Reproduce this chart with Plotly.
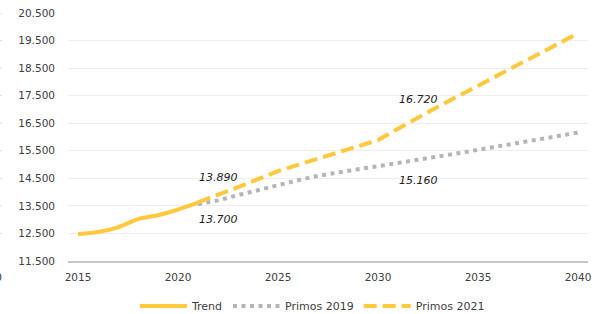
import plotly.graph_objects as go

years_trend = [2015, 2016, 2017, 2018, 2019, 2020, 2021]
trend = [12480, 12550, 12720, 13020, 13160, 13370, 13620]

years_fc = list(range(2021, 2041))
primos_2019 = [13560, 13700, 13890, 14080, 14260, 14430, 14590, 14720, 14830, 14940,
               15050, 15160, 15285, 15410, 15535, 15660, 15785, 15910, 16035, 16160]
primos_2021 = [13630, 13890, 14180, 14470, 14760, 14990, 15220, 15440, 15660, 15890,
               16300, 16720, 17100, 17480, 17860, 18240, 18620, 19000, 19380, 19760]

x_ticks = [2015, 2020, 2025, 2030, 2035, 2040]
y_ticks = list(range(11500, 20501, 1000))

def fmt(v):
    return f"{v:,}".replace(",", ".")

YELLOW = "#FFC83D"
GRAY = "#B2B6BA"
FONT = "DejaVu Sans"

fig = go.Figure()
fig.add_trace(go.Scatter(x=years_trend, y=trend, mode="lines", name="Trend",
                         line=dict(color=YELLOW, width=4, shape="spline", smoothing=0.8)))
fig.add_trace(go.Scatter(x=years_fc, y=primos_2019, mode="lines", name="Primos 2019",
                         line=dict(color=GRAY, width=4, dash="4px,4.5px")))
fig.add_trace(go.Scatter(x=years_fc, y=primos_2021, mode="lines", name="Primos 2021",
                         line=dict(color=YELLOW, width=4, dash="13px,6px")))

# data labels
labels = [
    (years_fc[1], primos_2021[1], 18),
    (years_fc[1], primos_2019[1], -19),
    (years_fc[11], primos_2021[11], 18),
    (years_fc[11], primos_2019[11], -20),
]
for x, y, ys in labels:
    fig.add_annotation(x=x, y=y, text=f"<i>{fmt(y)}</i>", showarrow=False, yshift=ys,
                       font=dict(family=FONT, size=11, color="#222222"))

# cut-off neighbour content at left edge
fig.add_annotation(xref="paper", yref="paper", x=-64/520, y=-17/248, yshift=-8, xanchor="right",
                   text="0", showarrow=False, font=dict(family=FONT, size=11, color="#404040"))
for v in y_ticks[1:]:
    fig.add_shape(type="line", xref="paper", yref="y", x0=-68/520, x1=-66/520, y0=v, y1=v,
                  line=dict(color="#D9D9D9", width=1))

fig.update_layout(
    width=596, height=314,
    margin=dict(l=68, r=8, t=13, b=53, autoexpand=False),
    paper_bgcolor="white", plot_bgcolor="white",
    font=dict(family=FONT, size=10.5, color="#404040"),
    showlegend=True,
    legend=dict(orientation="h", xref="paper", yref="paper", x=0.47, y=-45/248,
                xanchor="center", yanchor="middle", font=dict(family=FONT, size=11, color="#404040"),
                itemwidth=47, tracegroupgap=0),
)
fig.update_xaxes(range=[2014.5, 2040.5], tickvals=x_ticks, ticktext=[str(t) for t in x_ticks],
                 showgrid=False, zeroline=False, showline=True, linecolor="#C6C6C6", linewidth=2,
                 ticks="outside", ticklen=5, tickcolor="rgba(0,0,0,0)", automargin=False)
fig.update_yaxes(range=[11500, 20500], tickvals=y_ticks, ticktext=[fmt(t) for t in y_ticks],
                 showgrid=True, gridcolor="#EDEDED", gridwidth=1, zeroline=False, showline=False,
                 ticklabelstandoff=12, automargin=False)

fig.write_html("out.html", config={"displayModeBar": False},
               post_script="document.body.style.margin='0';document.body.style.overflow='hidden';")
